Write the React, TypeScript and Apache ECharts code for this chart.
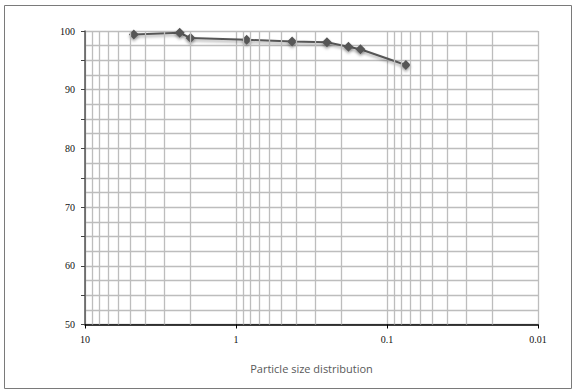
import React, { useEffect, useRef } from "react";
import * as echarts from "echarts";

const sizes = [4.75, 2.36, 2.0, 0.85, 0.425, 0.25, 0.18, 0.15, 0.075];
const passing = [99.4, 99.7, 98.8, 98.5, 98.2, 98.1, 97.3, 96.9, 94.2];
const decades = [0.01, 0.1, 1];
const minorMultipliers = [2, 3, 4, 5, 6, 7, 8, 9];
const xAxisTitle = "Particle size distribution";

export default function App() {
  const ref = useRef<HTMLDivElement>(null);
  useEffect(() => {
    document.body.style.margin = "0";
    const chart = echarts.init(ref.current!, null, { renderer: "svg" });
    const minorLines: any[] = [];
    decades.forEach((d) =>
      minorMultipliers.forEach((m) => minorLines.push({ xAxis: +(d * m).toPrecision(6) }))
    );
    const gridColor = "#bdbdbd";
    const labelFont = "'Liberation Serif', 'DejaVu Serif', serif";
    chart.setOption({
      animation: false,
      backgroundColor: "#ffffff",
      grid: { left: 85, right: 36, top: 31, bottom: 65.5 },
      xAxis: {
        type: "log",
        logBase: 10,
        min: 0.01,
        max: 10,
        inverse: true,
        name: xAxisTitle,
        nameLocation: "middle",
        nameGap: 38,
        nameTextStyle: { fontFamily: "Open Sans", fontSize: 11, color: "#595959" },
        axisLine: { show: true, onZero: false, lineStyle: { color: "#000", width: 1.5 } },
        axisTick: { show: true, length: 4, lineStyle: { color: "#000" } },
        axisLabel: {
          fontFamily: labelFont,
          fontSize: 10,
          color: "#111",
          margin: 10,
          formatter: (v: number) => String(+v.toPrecision(3)),
        },
        splitLine: { show: true, lineStyle: { color: gridColor, width: 1.3 } },
        minorTick: { show: false },
        minorSplitLine: { show: false },
      },
      yAxis: {
        type: "value",
        min: 50,
        max: 100,
        interval: 5,
        axisLine: { show: true, lineStyle: { color: "#555", width: 1.5 } },
        axisTick: { show: true, length: 4, lineStyle: { color: "#444" } },
        axisLabel: {
          fontFamily: labelFont,
          fontSize: 10,
          color: "#111",
          margin: 10,
          formatter: (v: number) => (v % 10 === 0 ? String(v) : ""),
        },
        splitLine: { show: true, lineStyle: { color: gridColor, width: 1.3 } },
        minorTick: { show: false, splitNumber: 2 },
        minorSplitLine: { show: true, lineStyle: { color: gridColor, width: 1.3 } },
      },
      series: [
        {
          type: "line",
          data: [],
          z: 1,
          silent: true,
          markLine: {
            silent: true,
            symbol: ["none", "none"],
            label: { show: false },
            lineStyle: { color: gridColor, width: 1.3, type: "solid" },
            data: minorLines,
            animation: false,
          },
        },
        {
          type: "line",
          z: 3,
          data: sizes.map((s, i) => [s, passing[i]]),
          symbol: "diamond",
          symbolSize: 10,
          lineStyle: {
            color: "#575757",
            width: 2,
            shadowColor: "rgba(0,0,0,0.35)",
            shadowBlur: 3,
            shadowOffsetY: 2,
          },
          itemStyle: {
            color: "#575757",
            shadowColor: "rgba(0,0,0,0.35)",
            shadowBlur: 3,
            shadowOffsetY: 2,
          },
        },
      ],
      graphic: [
        {
          type: "rect",
          shape: { x: 4.5, y: 5.5, width: 567, height: 383 },
          style: { fill: "none", stroke: "#7a7a7a", lineWidth: 1 },
          silent: true,
        },
      ],
    });
    return () => chart.dispose();
  }, []);
  return <div ref={ref} style={{ width: 574, height: 390 }} />;
}
